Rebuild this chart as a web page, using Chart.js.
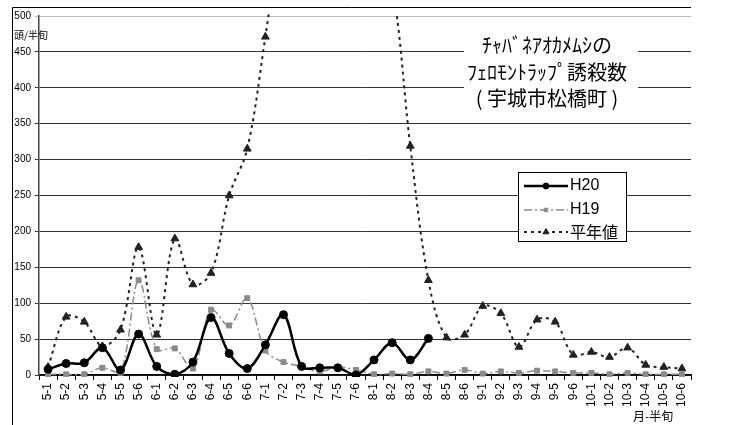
<!DOCTYPE html>
<html>
<head>
<meta charset="utf-8">
<script src="https://cdn.jsdelivr.net/npm/chart.js@4/dist/chart.umd.min.js"></script>
<style>
html,body{margin:0;padding:0;background:#fff;}
#wrap{width:729px;height:425px;position:relative;}
</style>
</head>
<body>
<div id="wrap"><canvas id="c" width="729" height="425"></canvas></div>
<script>
const categories = ['5-1','5-2','5-3','5-4','5-5','5-6',
  '6-1','6-2','6-3','6-4','6-5','6-6',
  '7-1','7-2','7-3','7-4','7-5','7-6',
  '8-1','8-2','8-3','8-4','8-5','8-6',
  '9-1','9-2','9-3','9-4','9-5','9-6',
  '10-1','10-2','10-3','10-4','10-5','10-6'];
const h20 = [8,16,17,38,7,57, 12,1,18,80,30,9, 42,84,12,10,10,0, 21,45,21,51,null,null,
  null,null,null,null,null,null, null,null,null,null,null,null];
const h19 = [1,1,1,10,3,132, 36,37,9,91,69,107, 34,18,12,5,11,7, 1,2,1,5,2,7,
  2,5,3,6,5,3, 3,1,3,1,1,1];
const normal = [11,81,74,40,63,178, 56,190,126,142,250,315, 471,640,700,720,700,680,
  620,545,319,132,52,56, 96,86,39,77,74,28, 32,25,38,14,11,9];
const seriesNames = ['H20','H19','平年値'];
const titleLines = ['ﾁｬﾊﾞﾈｱｵｶﾒﾑｼの','ﾌｪﾛﾓﾝﾄﾗｯﾌﾟ誘殺数','( 宇城市松橋町 )'];
const yUnit = '頭/半旬';
const xUnit = '月-半旬';
const yTicks = {min:0, max:500, step:50};

const CJK = '"Noto Sans CJK JP", sans-serif';
const LAT = '"Liberation Sans", Arial, sans-serif';

const styles = [
  {color:'#000', width:2.5, dash:[], point:'circle', r:4, pc:'#000'},
  {color:'#8a8a8a', width:1.5, dash:[8,3,2,3], point:'rect', r:3.5, pc:'#8a8a8a'},
  {color:'#222', width:2, dash:[3,4], point:'triangle', r:4.5, pc:'#222'}
];

const decor = {
  id:'decor',
  beforeDraw(chart){
    const ctx = chart.ctx;
    ctx.save();
    ctx.fillStyle = '#fff';
    ctx.fillRect(0,0,chart.width,chart.height);
    ctx.restore();
  },
  afterDraw(chart){
    const ctx = chart.ctx;
    const ca = chart.chartArea;
    ctx.save();
    // outer frame
    ctx.strokeStyle = '#000';
    ctx.lineWidth = 1;
    ctx.beginPath();
    ctx.moveTo(ca.right, 7.5);
    ctx.lineTo(12.5, 7.5);
    ctx.lineTo(12.5, chart.height);
    ctx.stroke();

    // title box
    ctx.fillStyle = '#fff';
    ctx.fillRect(464, 33, 174, 78);
    ctx.fillStyle = '#000';
    ctx.font = '20px ' + CJK;
    ctx.textAlign = 'center';
    ctx.textBaseline = 'middle';
    const ty = [45, 72, 98];
    titleLines.forEach((t,i)=>ctx.fillText(t, 547, ty[i]));

    // units
    ctx.font = '10px ' + CJK;
    ctx.textAlign = 'left';
    ctx.fillText(yUnit, 14, 35);
    ctx.font = '12px ' + CJK;
    ctx.fillText(xUnit, 633, 416);

    // legend
    const lx = 518.5, ly = 172.5, lw = 108, lh = 69;
    ctx.fillStyle = '#fff';
    ctx.fillRect(lx, ly, lw, lh);
    ctx.strokeStyle = '#000';
    ctx.lineWidth = 1;
    ctx.strokeRect(lx, ly, lw, lh);
    const rows = [186, 210, 232];
    seriesNames.forEach((name,i)=>{
      const s = styles[i];
      const y = rows[i];
      ctx.save();
      ctx.strokeStyle = s.color;
      ctx.lineWidth = s.width;
      ctx.setLineDash(s.dash);
      ctx.beginPath();
      ctx.moveTo(524, y);
      ctx.lineTo(568, y);
      ctx.stroke();
      ctx.restore();
      ctx.fillStyle = s.pc;
      ctx.strokeStyle = s.pc;
      Chart.helpers.drawPoint(ctx, {pointStyle:s.point, radius:s.r - 1, borderWidth:1}, 546, y);
      ctx.fillStyle = '#000';
      ctx.font = '16px ' + (i===2 ? CJK : LAT);
      ctx.textAlign = 'left';
      ctx.textBaseline = 'middle';
      ctx.fillText(name, 570, y);
    });
    ctx.restore();
  }
};

const datasets = [h20, h19, normal].map((d,i)=>({
  label: seriesNames[i],
  data: d,
  borderColor: styles[i].color,
  borderWidth: styles[i].width,
  borderDash: styles[i].dash,
  pointStyle: styles[i].point,
  pointRadius: styles[i].r,
  pointBackgroundColor: styles[i].pc,
  pointBorderColor: styles[i].pc,
  pointBorderWidth: 1,
  tension: 0.35,
  spanGaps: false,
  fill: false,
  clip: 2
}));

new Chart(document.getElementById('c'), {
  type: 'line',
  data: {labels: categories, datasets},
  options: {
    responsive: false,
    animation: false,
    devicePixelRatio: 1,
    layout: {padding: {top: 16, right: 38, left: 0, bottom: 0}},
    plugins: {legend: {display: false}, title: {display: false}, tooltip: {enabled: false}},
    scales: {
      x: {
        offset: true,
        grid: {display: true, drawOnChartArea: false, drawTicks: true, tickLength: 5, offset: true, color: '#000'},
        border: {display: true, color: '#000', width: 1.5},
        ticks: {autoSkip: false, minRotation: 90, maxRotation: 90, padding: 3, color: '#000',
          font: {family: LAT, size: 12}},
        afterFit(scale){ scale.height = 50; }
      },
      y: {
        min: yTicks.min, max: yTicks.max,
        ticks: {stepSize: yTicks.step, padding: 4, color: '#000', font: {family: LAT, size: 10}},
        grid: {color: (c)=> (c.tick && c.tick.value === 500) ? '#bbb' : '#333', lineWidth: 1, tickLength: 4, drawTicks: true},
        border: {display: true, color: '#444', width: 1.5},
        afterFit(scale){ scale.width = 39; }
      }
    }
  },
  plugins: [decor]
});
</script>
</body>
</html>
